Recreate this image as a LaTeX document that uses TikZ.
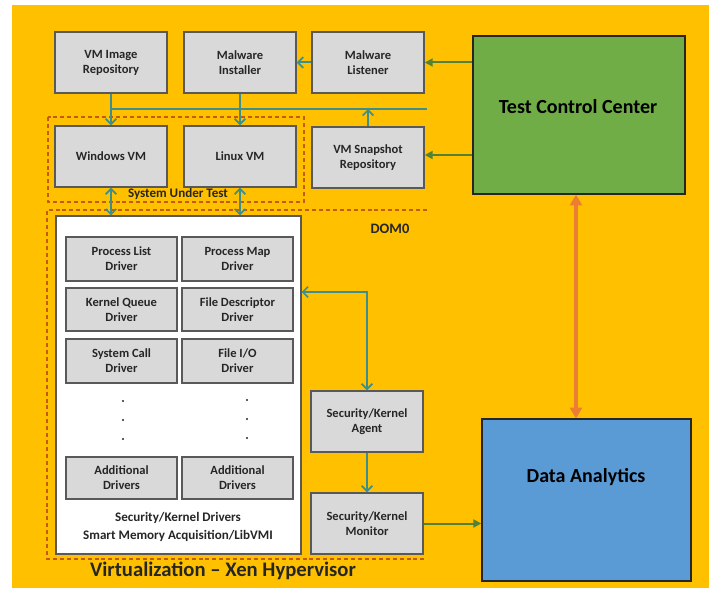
\documentclass[tikz,border=0pt]{standalone}
\usepackage{fontspec}
\setmainfont{Carlito}
\usetikzlibrary{arrows.meta}
\definecolor{bgyellow}{HTML}{FFC000}
\definecolor{boxgray}{HTML}{D9D9D9}
\definecolor{boxline}{HTML}{595959}
\definecolor{tccgreen}{HTML}{70AD47}
\definecolor{dablue}{HTML}{5B9BD5}
\definecolor{tealline}{HTML}{3E8F8C}
\definecolor{greenline}{HTML}{548235}
\definecolor{orangeline}{HTML}{ED7D31}
\definecolor{dashline}{HTML}{C55A11}
\definecolor{txt}{HTML}{262626}
% box placed by its pixel corners: name, style, x1, y1, x2, y2, text
\newcommand{\pxbox}[7]{%
  \node[#2, minimum width={(#5-#3)*0.75pt}, minimum height={(#6-#4)*0.75pt}]
    (#1) at ({(#3+#5)/2},{(#4+#6)/2}) {#7};}
\tikzset{
  graybox/.style={draw=boxline, line width=1.1pt, fill=boxgray, inner sep=0pt,
    align=center, font=\bfseries\fontsize{9.4}{11.2}\selectfont, text=txt},
  bigbox/.style={draw=black!85, line width=1pt, inner sep=0pt},
  bigtext/.style={inner sep=0pt, text=black, font=\bfseries\fontsize{15}{17}\selectfont},
  whitebox/.style={draw=boxline, line width=0.8pt, fill=white, inner sep=0pt},
  groupline/.style={draw=dashline, dashed, dash pattern=on 3pt off 2.2pt, line width=0.9pt},
  teal/.style={draw=tealline, line width=1.5pt},
  tealtip/.style={teal, -{Straight Barb[length=4pt,width=8pt,line width=1.3pt]}},
  tealboth/.style={teal, {Straight Barb[length=4pt,width=8pt,line width=1.3pt]}-{Straight Barb[length=4pt,width=8pt,line width=1.3pt]}},
  greentip/.style={draw=greenline, line width=1.5pt, -{Triangle[length=6pt,width=6pt]}, color=greenline},
  orangeboth/.style={draw=orangeline, line width=2.4pt, color=orangeline,
    {Triangle[length=8pt,width=9pt]}-{Triangle[length=8pt,width=9pt]}},
  dotmark/.style={circle, fill=txt, inner sep=0pt, minimum size=1.8pt},
  plainlabel/.style={inner sep=0pt, text=txt, font=\bfseries\fontsize{9.4}{11.2}\selectfont, align=center}
}
\begin{document}
\begin{tikzpicture}[x=0.75pt, y=-0.75pt]
\useasboundingbox (0,0) rectangle (709,588);
\fill[white] (0,0) rectangle (709,588);
\fill[bgyellow] (12,5) rectangle (709,588);

% top row
\pxbox{vmimg}{graybox}{55}{32}{167}{93}{VM Image\\Repository}
\pxbox{minst}{graybox}{184}{32}{296}{93}{Malware\\Installer}
\pxbox{mlist}{graybox}{312}{32}{424}{93}{Malware\\Listener}
\pxbox{tcc}{bigbox, fill=tccgreen}{473}{36}{685}{194}{}
\node[bigtext] (tcctext) at (578,107) {Test Control Center};

% system under test
\draw[groupline] (48,117) rectangle (304,202);
\pxbox{winvm}{graybox}{55}{126}{167}{187}{Windows VM}
\pxbox{linvm}{graybox}{184}{126}{296}{187}{Linux VM}
\pxbox{snap}{graybox}{312}{127}{424}{188}{VM Snapshot\\Repository}
\node[plainlabel, font=\bfseries\fontsize{9.8}{11}\selectfont] (sutlabel) at (178,194) {System Under Test};

% DOM0 group (open on the right)
\draw[groupline] (427,210) -- (47,210) -- (47,559) -- (427,559);
\node[plainlabel, font=\bfseries\fontsize{10.8}{12}\selectfont] (dom0) at (390,229) {DOM0};

% driver stack
\pxbox{drv}{whitebox}{56}{216}{301}{554}{}
\pxbox{plist}{graybox}{66}{237}{177}{281}{Process List\\Driver}
\pxbox{pmap}{graybox}{182}{237}{293}{281}{Process Map\\Driver}
\pxbox{kq}{graybox}{66}{288}{177}{331}{Kernel Queue\\Driver}
\pxbox{fd}{graybox}{182}{288}{293}{331}{File Descriptor\\Driver}
\pxbox{sc}{graybox}{66}{339}{177}{383}{System Call\\Driver}
\pxbox{fio}{graybox}{182}{339}{293}{383}{File I/O\\Driver}
\pxbox{add1}{graybox}{66}{457}{177}{499}{Additional\\Drivers}
\pxbox{add2}{graybox}{182}{457}{293}{499}{Additional\\Drivers}
\foreach \yy [count=\i] in {401,420,439} {
  \node[dotmark] (dl\i) at (123,\yy) {};
  \node[dotmark] (dr\i) at (247,\yy-1) {};
}
\node[plainlabel, font=\bfseries\fontsize{9.8}{13.5}\selectfont] (drvlabel) at (178,527) {Security/Kernel Drivers\\Smart Memory Acquisition/LibVMI};

% agent, monitor, analytics
\pxbox{agent}{graybox}{311}{391}{423}{452}{Security/Kernel\\Agent}
\pxbox{mon}{graybox}{311}{493}{423}{554}{Security/Kernel\\Monitor}
\pxbox{da}{bigbox, fill=dablue}{482}{419}{691}{581}{}
\node[bigtext] (datext) at (586,477) {Data Analytics};

\node[inner sep=0pt, text=txt, font=\bfseries\fontsize{15.5}{17}\selectfont] (xen) at (223,571) {Virtualization – Xen Hypervisor};

% connectors
\coordinate (busR) at (427,109);
\coordinate (cornerA) at (367,292);
\coordinate (ox) at (576,0);
\draw[teal] (vmimg.south |- busR) -- (busR);
\draw[tealtip] (vmimg.south) -- (winvm.north);
\draw[tealtip] (minst.south) -- (linvm.north);
\draw[tealtip] (snap.north) -- (snap.north |- busR);
\draw[tealtip] (mlist.west) -- (minst.east);
\draw[greentip] (tcc.west |- mlist.east) -- (mlist.east);
\draw[greentip] (tcc.west |- 0,155) -- (snap.east |- 0,155);
\draw[tealboth] (winvm.south) -- (winvm.south |- drv.north);
\draw[tealboth] (linvm.south) -- (linvm.south |- drv.north);
\draw[tealboth] (drv.east |- cornerA) -- (cornerA) -- (agent.north);
\draw[tealtip] (agent.south) -- (mon.north);
\draw[greentip] (mon.east) -- (da.west |- mon.east);
\draw[orangeboth] (tcc.south -| ox) -- (da.north -| ox);
\end{tikzpicture}
\end{document}
